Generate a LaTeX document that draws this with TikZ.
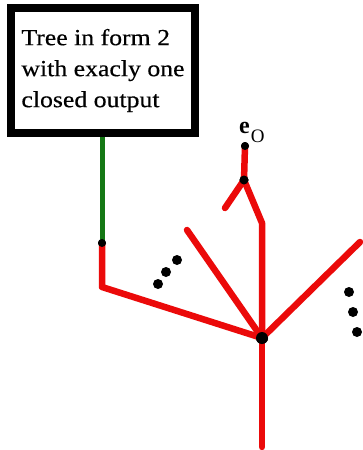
\documentclass[tikz,border=0pt]{standalone}
\usepackage{fontspec}
\setmainfont{Liberation Serif}
\newfontfamily\boxfont[FakeStretch=1.12,FakeBold=0.4]{Liberation Serif}
\begin{document}
\begin{tikzpicture}[x=1pt,y=-1pt,
  redline/.style={draw={rgb,255:red,235;green,10;blue,10},line width=6.5pt,line cap=round,line join=round},
  greenline/.style={draw={rgb,255:red,20;green,120;blue,20},line width=5pt},
  vdot/.style={circle,fill=black,inner sep=0pt,minimum size=#1},
  vdot/.default=10pt,
  labelbox/.style={draw=black,line width=8pt,minimum width=184pt,minimum height=125pt,align=left,font=\boxfont\fontsize{23}{31}\selectfont,inner sep=0pt}]
\useasboundingbox (0,0) rectangle (363,450);
\node[labelbox] (box) at (103,70.5) {Tree in form 2\\with exacly one\\closed output};
\coordinate (g0) at (102,137);
\coordinate (corner) at (102,287);
\coordinate (bottom) at (262,447);
\coordinate (ul) at (187,230);
\coordinate (bend) at (262,223);
\coordinate (tl) at (225,208);
\coordinate (ur) at (360,242);
\node[vdot=12pt] (hub) at (262,338) {};
\node[vdot=8pt] (g1) at (102,243) {};
\node[vdot=9pt] (top) at (244,180) {};
\node[vdot=8pt] (eo) at (245,146) {};
\draw[greenline] (g0) -- (g1.center);
\draw[redline] (g1.center) -- (corner) -- (hub.center);
\draw[redline] (hub.center) -- (bottom);
\draw[redline] (hub.center) -- (ul);
\draw[redline] (hub.center) -- (bend) -- (top.center) -- (eo.center);
\draw[redline] (top.center) -- (tl);
\draw[redline] (hub.center) -- (ur);
\node[vdot=12pt] at (hub) {};
\node[vdot=8pt] at (g1) {};
\node[vdot=9pt] at (top) {};
\node[vdot=8pt] at (eo) {};
\node[anchor=base west,inner sep=0pt] (eolabel) at (239,133) {{\fontsize{24}{24}\selectfont\textbf{e}}\hspace{1pt}\raisebox{-9pt}{\fontsize{19}{19}\selectfont O}};
\node[vdot] (d1) at (177,260) {};
\node[vdot] (d2) at (166,272) {};
\node[vdot] (d3) at (158,284) {};
\node[vdot] (d4) at (349,292) {};
\node[vdot] (d5) at (353,312) {};
\node[vdot] (d6) at (357,332) {};
\end{tikzpicture}
\end{document}
